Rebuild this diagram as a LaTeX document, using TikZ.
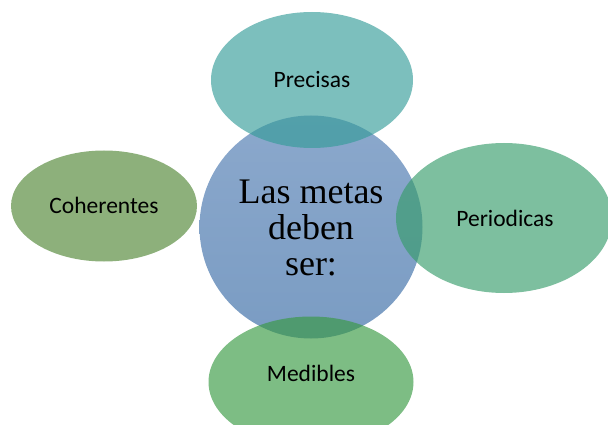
\documentclass[tikz,border=0pt]{standalone}
\usepackage{fontspec}
\setmainfont{Liberation Serif}
\newfontfamily\satfont{Carlito}
\usetikzlibrary{shapes.geometric}
\definecolor{cblueT}{RGB}{139,168,204}
\definecolor{cblueB}{RGB}{122,156,195}
\definecolor{cteal}{RGB}{53,156,153}
\definecolor{colive}{RGB}{80,134,52}
\definecolor{cmint}{RGB}{55,156,107}
\definecolor{cgreen}{RGB}{56,153,66}
\tikzset{
  sat/.style={ellipse, inner sep=0pt, fill opacity=0.65, draw=none},
  sattext/.style={font=\satfont\fontsize{23.5}{28}\selectfont, text=black, inner sep=0pt},
  hub/.style={circle, inner sep=0pt, minimum size=223pt, top color=cblueT, bottom color=cblueB, draw=none},
  hubtext/.style={font=\fontsize{36}{36}\selectfont, align=center, text=black, inner sep=0pt}
}
\begin{document}
\begin{tikzpicture}[x=1pt,y=-1pt]
\useasboundingbox (0,0) rectangle (608,425);
\node[hub] (hub) at (311,227) {};
\node[sat, fill=cteal, minimum width=202pt, minimum height=136pt] (top) at (312,80) {};
\node[sat, fill=colive, minimum width=186pt, minimum height=111pt] (left) at (104,206) {};
\node[sat, fill=cmint, minimum width=216pt, minimum height=150pt] (right) at (504,218) {};
\node[sat, fill=cgreen, minimum width=205pt, minimum height=131pt] (bottom) at (311,382) {};
\node[hubtext] (hubt) at (311,228) {Las metas\\deben\\ser:};
\node[sattext] (topt) at (top.center) {Precisas};
\node[sattext] (leftt) at (104,205) {Coherentes};
\node[sattext] (rightt) at (505,218) {Periodicas};
\node[sattext] (bottomt) at (311,373) {Medibles};
\end{tikzpicture}
\end{document}
